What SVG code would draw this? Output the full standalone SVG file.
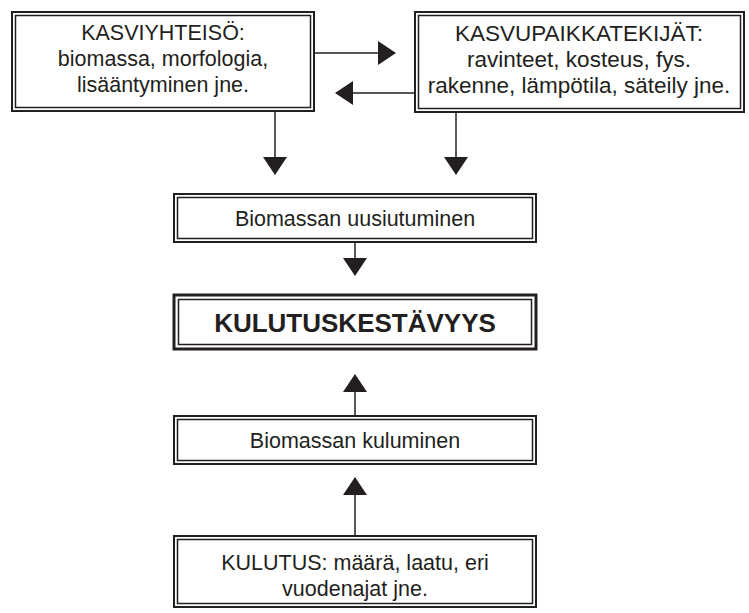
<svg xmlns="http://www.w3.org/2000/svg" width="749" height="613" viewBox="0 0 749 613">
<style>
.outer{fill:#fff;stroke:#231f20;stroke-width:2}
.outer2{fill:#fff;stroke:#231f20;stroke-width:3}
.inner{fill:none;stroke:#231f20;stroke-width:1.5}
.t{font-family:"Liberation Sans",Arial,sans-serif;font-size:21.5px;fill:#231f20;text-anchor:middle}
.t2{font-size:22.5px}
.b{font-family:"Liberation Sans",Arial,sans-serif;font-size:26px;font-weight:bold;fill:#231f20;text-anchor:middle}
.c{fill:none;stroke:#231f20;stroke-width:1.5;marker-end:url(#ah)}
</style>
<defs>
<marker id="ah" markerUnits="userSpaceOnUse" markerWidth="18" markerHeight="24" refX="17" refY="12" orient="auto">
<path d="M0,0 L18,12 L0,24 z" fill="#231f20"/>
</marker>
</defs>
<rect width="749" height="613" fill="#fff"/>
<g id="connectors">
<line class="c" x1="315" y1="53" x2="395" y2="53"/>
<line class="c" x1="415" y1="93" x2="336" y2="93"/>
<line class="c" x1="275" y1="112" x2="275" y2="174"/>
<line class="c" x1="456" y1="113" x2="456" y2="174"/>
<line class="c" x1="355" y1="243" x2="355" y2="275"/>
<line class="c" x1="355" y1="415" x2="355" y2="375"/>
<line class="c" x1="355" y1="535" x2="355" y2="478"/>
</g>
<g id="kasviyhteiso">
<rect class="outer" x="12" y="12" width="302" height="99"/>
<rect class="inner" x="15.5" y="15.5" width="295" height="92"/>
<text class="t" x="163" y="40">KASVIYHTEISÖ:</text>
<text class="t" x="163" y="66">biomassa, morfologia,</text>
<text class="t" x="163" y="92">lisääntyminen jne.</text>
</g>
<g id="kasvupaikkatekijat">
<rect class="outer" x="415" y="12" width="329" height="100"/>
<rect class="inner" x="418.5" y="15.5" width="322" height="93"/>
<text class="t t2" x="579" y="41">KASVUPAIKKATEKIJÄT:</text>
<text class="t t2" x="579" y="67">ravinteet, kosteus, fys.</text>
<text class="t t2" x="579" y="93">rakenne, lämpötila, säteily jne.</text>
</g>
<g id="uusiutuminen">
<rect class="outer" x="174" y="194" width="362" height="48"/>
<rect class="inner" x="177.5" y="197.5" width="355" height="41"/>
<text class="t" x="355" y="226">Biomassan uusiutuminen</text>
</g>
<g id="kulutuskestavyys">
<rect class="outer2" x="174" y="295" width="362" height="54"/>
<rect class="inner" x="178.5" y="299.5" width="353" height="45"/>
<text class="b" x="355" y="332">KULUTUSKESTÄVYYS</text>
</g>
<g id="kuluminen">
<rect class="outer" x="174" y="416" width="362" height="48"/>
<rect class="inner" x="177.5" y="419.5" width="355" height="41"/>
<text class="t" x="355" y="448">Biomassan kuluminen</text>
</g>
<g id="kulutus">
<rect class="outer" x="174" y="536" width="362" height="71"/>
<rect class="inner" x="177.5" y="539.5" width="355" height="64"/>
<text class="t" x="355" y="570">KULUTUS: määrä, laatu, eri</text>
<text class="t" x="355" y="596">vuodenajat jne.</text>
</g>
</svg>
